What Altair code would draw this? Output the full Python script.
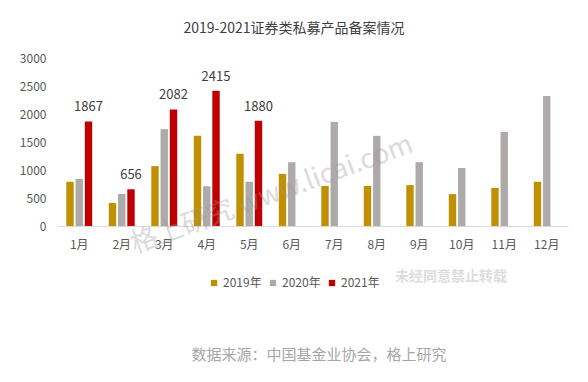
import altair as alt
import pandas as pd

months = ["1月", "2月", "3月", "4月", "5月", "6月", "7月", "8月", "9月", "10月", "11月", "12月"]
years = ["2019年", "2020年", "2021年"]
v2019 = [790, 410, 1070, 1610, 1290, 930, 715, 715, 730, 570, 680, 790]
v2020 = [840, 570, 1730, 710, 790, 1140, 1860, 1610, 1140, 1036, 1680, 2320]
v2021 = [1867, 656, 2082, 2415, 1880]
colors = ["#BF9000", "#AEAAAA", "#C00000"]
yticks = [0, 500, 1000, 1500, 2000, 2500, 3000]

rows = []
for i, m in enumerate(months):
    rows.append({"month": m, "year": years[0], "value": v2019[i]})
    rows.append({"month": m, "year": years[1], "value": v2020[i]})
    if i < len(v2021):
        rows.append({"month": m, "year": years[2], "value": v2021[i]})
df = pd.DataFrame(rows)

FONT = "Noto Sans CJK SC"

x = alt.X("month:N", sort=months, title=None,
          scale=alt.Scale(paddingInner=0.39, paddingOuter=0.195),
          axis=alt.Axis(labelAngle=0, domainColor="#D9D9D9", ticks=False,
                        labelPadding=13, labelFontSize=12, labelColor="#595959",
                        labelFont=FONT))
xo = alt.XOffset("year:N", scale=alt.Scale(domain=years, paddingInner=0.2))
y = alt.Y("value:Q", title=None,
          scale=alt.Scale(domain=[0, 3000]),
          axis=alt.Axis(values=yticks, tickCount=7, format="d",
                        labelOverlap=False, grid=False,
                        domain=False, ticks=False, labelPadding=12,
                        labelFontSize=12, labelColor="#595959", labelFont=FONT))

bars = alt.Chart(df).mark_bar().encode(
    x=x, xOffset=xo, y=y,
    color=alt.Color("year:N", scale=alt.Scale(domain=years, range=colors),
                    legend=alt.Legend(title=None, orient="none", direction="horizontal",
                                      legendX=150, legendY=219, symbolType="square",
                                      symbolSize=40, labelFontSize=12, labelColor="#595959",
                                      labelFont=FONT, columnPadding=5, labelOffset=3)),
)

labels = alt.Chart(df[df["year"] == "2021年"]).mark_text(
    dy=-14, fontSize=13, color="#404040", font=FONT
).encode(x=x, xOffset=xo, y=y, text="value:Q")

wm = alt.Chart(pd.DataFrame({"t": ["格上研究  www.licai.com"]})).mark_text(
    angle=340, fontSize=27, color="#9a9a9a", opacity=0.35, font=FONT
).encode(x=alt.value(214), y=alt.value(137), text="t:N")

notice = alt.Chart(pd.DataFrame({"t": ["未经同意禁止转载"]})).mark_text(
    fontSize=14, fontWeight="bold", color="#DDDDDD", font=FONT
).encode(x=alt.value(393), y=alt.value(219), text="t:N")

source = alt.Chart(pd.DataFrame({"t": ["数据来源：中国基金业协会，格上研究"]})).mark_text(
    fontSize=15, color="#A6A6A6", font=FONT
).encode(x=alt.value(261), y=alt.value(297), text="t:N")

chart = alt.layer(bars, labels, wm, notice, source).properties(
    width=510, height=168,
    title=alt.TitleParams("2019-2021证券类私募产品备案情况", anchor="middle", frame="group",
                          dx=-19, offset=16, fontSize=14, fontWeight="normal",
                          color="#404040", font=FONT),
    autosize=alt.AutoSizeParams(type="none"),
    padding={"left": 50, "top": 50, "right": 12, "bottom": 148},
).configure_view(stroke=None)

chart.save("out.html", embed_options={"renderer": "svg", "actions": False})
